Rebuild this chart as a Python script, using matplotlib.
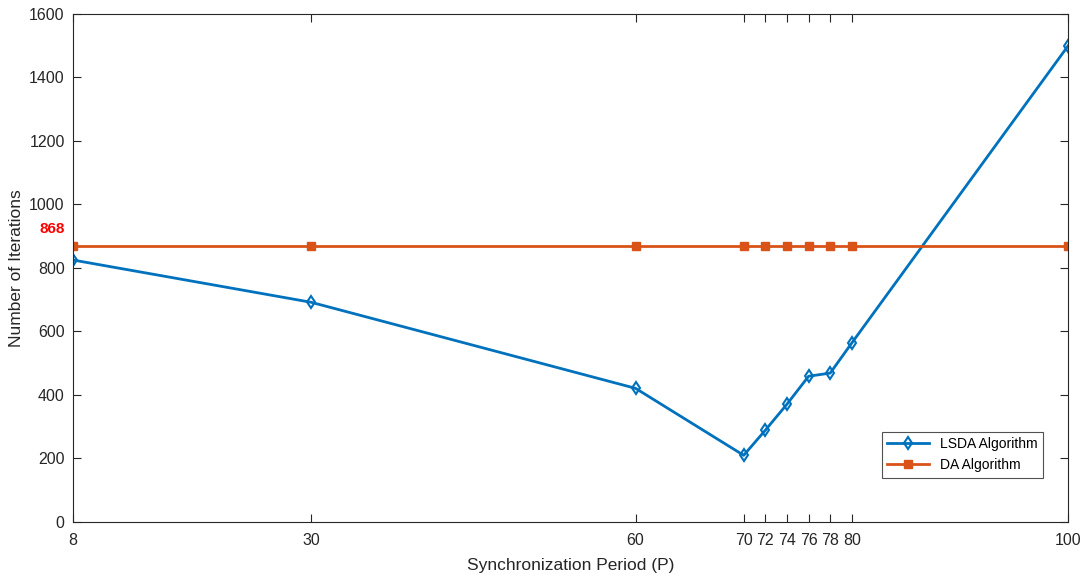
import matplotlib.pyplot as plt

plt.rcParams['font.family'] = ['Liberation Sans', 'DejaVu Sans']

# datos
periodos = [8, 30, 60, 70, 72, 74, 76, 78, 80, 100]
lsda = [825, 692, 421, 210, 289, 371, 459, 469, 564, 1500]
da = [868] * len(periodos)

fig = plt.figure(figsize=(10.9, 5.8), dpi=100)
ax = fig.add_axes([0.067, 0.1, 0.913, 0.876])

ax.plot(periodos, lsda, color='#0072BD', lw=2, marker='d', ms=6,
        mfc='none', mew=1.5, label='LSDA Algorithm')
ax.plot(periodos, da, color='#D95319', lw=2, marker='s', ms=5.5,
        mfc='#D95319', label='DA Algorithm')

ax.set_xlim(8, 100)
ax.set_ylim(0, 1600)
ax.set_xticks(periodos)
ax.set_yticks(range(0, 1601, 200))
ax.tick_params(direction='in', top=True, right=True, labelsize=11.5,
               colors='#262626', length=6)
ax.tick_params(axis='x', pad=8)
ax.tick_params(axis='y', pad=6)
for s in ax.spines.values():
    s.set_color('#262626')

ax.set_xlabel('Synchronization Period (P)', fontsize=12.5, color='#262626',
              labelpad=7)
ax.set_ylabel('Number of Iterations', fontsize=12.5, color='#262626')

ax.text(-0.008, 923, '868', color='red', fontweight='bold', fontsize=11,
        ha='right', va='center', transform=ax.get_yaxis_transform())

leg = ax.legend(loc='lower right', bbox_to_anchor=(0.975, 0.087),
                fontsize=10, fancybox=False, edgecolor='#262626',
                borderaxespad=0, handlelength=3)
leg.get_frame().set_linewidth(0.8)

fig.savefig('out.png', dpi=100)
